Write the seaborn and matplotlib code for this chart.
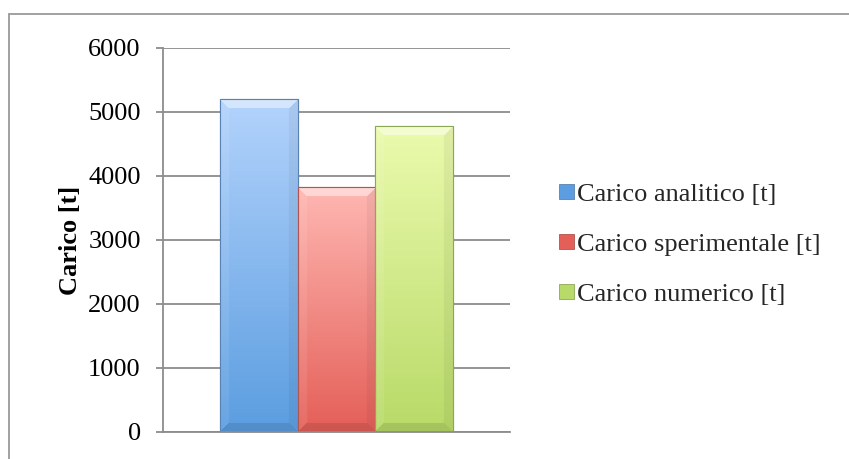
import numpy as np
import pandas as pd
import matplotlib
matplotlib.use("Agg")
import matplotlib.pyplot as plt
from matplotlib.colors import to_rgb
from matplotlib.lines import Line2D
from matplotlib.patches import Patch
import seaborn as sns

# Data
series = ["Carico analitico [t]", "Carico sperimentale [t]", "Carico numerico [t]"]
values = [5200, 3825, 4780]
y_ticks = [0, 1000, 2000, 3000, 4000, 5000, 6000]
y_label = "Carico [t]"

# Gradient colours (top, bottom) per series
top_colors = ["#b3d3fc", "#ffb7b2", "#ebfaad"]
bottom_colors = ["#5b9de0", "#e45f58", "#b8da68"]
edge_colors = ["#5a82b0", "#b05550", "#8ea757"]

df = pd.DataFrame({"grp": [""] * len(series), "serie": series, "valore": values})

sns.set_theme(style="white")
plt.rcParams["font.family"] = ["Liberation Serif", "DejaVu Serif"]
FS = 19

fig = plt.figure(figsize=(8.49, 4.59), dpi=100)
ax = fig.add_axes([163 / 849, 1 - 432 / 459, 347 / 849, 384 / 459])

sns.barplot(data=df, x="grp", y="valore", hue="serie", hue_order=series,
            palette=bottom_colors, width=0.67, gap=0, ax=ax, legend=False,
            errorbar=None, saturation=1)

ax.set_ylim(0, 6000)
ax.set_yticks(y_ticks)
ax.set_xlim(-0.5, 0.5)
ax.set_xlabel("")
ax.set_xticks([])


def bevel_image(tc, bc, wpx, hpx, b=9):
    """Vertical gradient with a chamfered bevel around the edges."""
    hpx, wpx = max(int(hpx), 2), max(int(wpx), 2)
    t = np.linspace(0, 1, hpx)[:, None, None]
    top = np.array(to_rgb(tc))[None, None, :]
    bot = np.array(to_rgb(bc))[None, None, :]
    img = np.repeat(top * (1 - t) + bot * t, wpx, axis=1)
    yy, xx = np.mgrid[0:hpx, 0:wpx]
    d = np.stack([yy, hpx - 1 - yy, xx, wpx - 1 - xx])  # top, bottom, left, right
    which = np.argmin(d, axis=0)
    near = np.min(d, axis=0) < b
    # lighten top/left, darken bottom/right
    shade = np.array([0.45, -0.10, 0.08, -0.05])[which]
    shade = np.where(near, shade, 0.0)[..., None]
    img = np.where(shade > 0, img + (1 - img) * shade, img * (1 + shade))
    return np.clip(img, 0, 1)


# Gradient fill inside each bar
for bar, tc, bc, ec in zip(ax.patches, top_colors, bottom_colors, edge_colors):
    x0, y0 = bar.get_x(), bar.get_y()
    w, h = bar.get_width(), bar.get_height()
    (px0, py0), (px1, py1) = ax.transData.transform([(x0, y0), (x0 + w, y0 + h)])
    img = bevel_image(tc, bc, px1 - px0, py1 - py0)
    im = ax.imshow(img, extent=[x0, x0 + w, y0, y0 + h], aspect="auto",
                   origin="upper", interpolation="bilinear",
                   zorder=bar.get_zorder() + 0.1)
    im.set_clip_path(bar)
    bar.set_edgecolor(ec)
    bar.set_linewidth(0.8)
    outline = plt.Rectangle((x0, y0), w, h, fill=False, edgecolor=ec,
                            linewidth=0.8, zorder=bar.get_zorder() + 0.2)
    ax.add_patch(outline)

# Gridlines and axes styling
ax.grid(axis="y", color="#8c8c8c", linewidth=1.3)
ax.set_axisbelow(True)
for side in ["top", "right"]:
    ax.spines[side].set_visible(False)
ax.spines["left"].set_color("#8c8c8c")
ax.spines["left"].set_linewidth(1.3)
ax.spines["bottom"].set_color("#8c8c8c")
ax.spines["bottom"].set_linewidth(1.3)
ax.tick_params(axis="y", which="both", left=True, length=5, width=1.3,
               color="#8c8c8c", pad=11, labelsize=FS, labelcolor="black")

ax.set_ylabel(y_label, fontsize=FS, fontweight="bold", color="black")
ax.yaxis.set_label_coords(-0.232, 0.5)

# Legend
handles = [Patch(facecolor=c, edgecolor=e, linewidth=0.6)
           for c, e in zip(bottom_colors, edge_colors)]
fig.legend(handles, series, loc="center left",
           bbox_to_anchor=(559 / 849, 1 - 245 / 459), frameon=False,
           fontsize=FS, handlelength=0.55, handleheight=0.5,
           handletextpad=0.12, labelspacing=1.05, borderpad=0, borderaxespad=0)

# Chart-area border (top and left edges)
fig.add_artist(Line2D([8.5 / 849, 1.0], [1 - 13.5 / 459, 1 - 13.5 / 459],
                      transform=fig.transFigure, color="#9a9a9a", linewidth=1.3))
fig.add_artist(Line2D([8.5 / 849, 8.5 / 849], [0.0, 1 - 13.5 / 459],
                      transform=fig.transFigure, color="#9a9a9a", linewidth=1.3))

fig.savefig("out.png", dpi=100, facecolor="white")
